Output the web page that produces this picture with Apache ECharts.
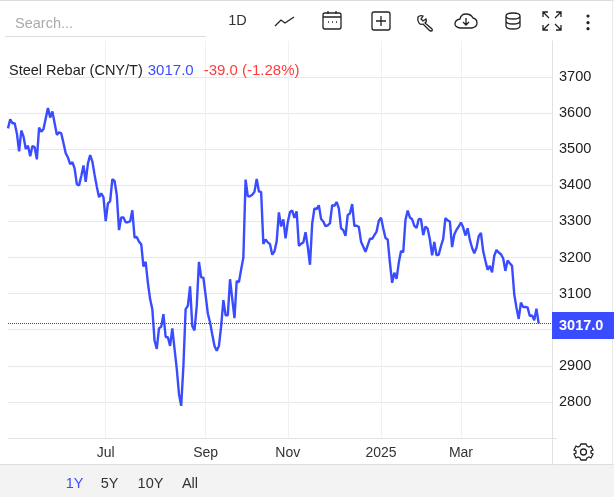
<!DOCTYPE html>
<html>
<head>
<meta charset="utf-8">
<title>Steel Rebar</title>
<script src="https://cdn.jsdelivr.net/npm/echarts@6/dist/echarts.min.js"></script>
<style>
  html, body { margin: 0; padding: 0; background: #fff; }
  #chart { width: 614px; height: 497px; }
</style>
</head>
<body>
<div id="chart"></div>
<script>
// daily close
const prices = [
  3558, 3583, 3572, 3572, 3544, 3494, 3552, 3535, 3501, 3510, 3481, 3509, 3506, 3472, 3560, 3549,
  3556, 3586, 3614, 3588, 3605, 3572, 3540, 3547, 3544, 3517, 3489, 3477, 3459, 3464, 3447, 3403,
  3400, 3426, 3455, 3410, 3461, 3484, 3466, 3429, 3396, 3367, 3378, 3367, 3301, 3350, 3356, 3417,
  3412, 3373, 3276, 3311, 3311, 3298, 3298, 3300, 3331, 3255, 3257, 3244, 3237, 3175, 3188, 3130,
  3085, 3057, 2970, 2947, 3004, 3008, 3043, 2980, 2979, 2955, 3004, 2947, 2892, 2822, 2789, 2900,
  3057, 3066, 3120, 3010, 2998, 3066, 3188, 3145, 3144, 3095, 3045, 3020, 2987, 2955, 2942, 2955,
  3010, 3082, 3040, 3040, 3140, 3085, 3032, 3135, 3132, 3167, 3200, 3416, 3370, 3370, 3374, 3382,
  3418, 3383, 3382, 3238, 3250, 3242, 3237, 3208, 3217, 3245, 3325, 3286, 3306, 3253, 3298, 3326,
  3330, 3310, 3328, 3232, 3238, 3242, 3270, 3230, 3180, 3294, 3336, 3334, 3345, 3307, 3300, 3287,
  3289, 3295, 3345, 3343, 3354, 3336, 3281, 3276, 3260, 3318, 3322, 3348, 3288, 3288, 3285, 3244,
  3230, 3216, 3234, 3252, 3252, 3262, 3272, 3302, 3310, 3281, 3254, 3250, 3186, 3130, 3158, 3141,
  3186, 3218, 3215, 3304, 3330, 3311, 3306, 3288, 3282, 3307, 3306, 3262, 3286, 3280, 3250, 3206,
  3243, 3206, 3208, 3232, 3252, 3309, 3303, 3300, 3229, 3264, 3277, 3286, 3297, 3283, 3261, 3281,
  3249, 3227, 3212, 3227, 3259, 3268, 3218, 3191, 3166, 3177, 3159, 3205, 3221, 3214, 3209, 3198,
  3163, 3192, 3184, 3177, 3098, 3061, 3030, 3075, 3063, 3063, 3062, 3038, 3040, 3026, 3058, 3017
];

const tickLabels = ['Jul', 'Sep', 'Nov', '2025', 'Mar'];
// unlabelled trading days before each tick, then the empty days after the last one
const daysBetweenTicks = [44, 44, 36, 41, 35, 41];
const ranges = ['1Y', '5Y', '10Y', 'All'];

const lastPrice = '3017.0';
const change = '-39.0 (-1.28%)';

const BLUE = '#3a4cff';
const FONT = '"Liberation Sans", Arial, sans-serif';

// category axis: empty names except on the month ticks
const categories = [];
daysBetweenTicks.forEach((days, i) => {
  for (let d = 0; d < days; d++) categories.push('');
  if (i < tickLabels.length) categories.push(tickLabels[i]);
});
const isTick = (idx, name) => name !== '';

function line(x1, y1, x2, y2, color) {
  return { type: 'line', silent: true, z: 1, shape: { x1, y1, x2, y2 }, style: { stroke: color, lineWidth: 1 } };
}
function text(x, y, str, size, color, align) {
  return {
    type: 'text', silent: true, z: 5, x, y,
    style: { text: str, fontSize: size, fontFamily: FONT, fill: color, align: align || 'left', verticalAlign: 'middle' }
  };
}
function dot(cx, cy, r) {
  return { type: 'circle', silent: true, z: 5, shape: { cx, cy, r }, style: { fill: '#222' } };
}

// toolbar and settings icons, page pixel coordinates
const icons = [
  'M275 26L281 20L285 23L294 17',
  'M325 13H339Q341 13 341 15V27Q341 29 339 29H325Q323 29 323 27V15Q323 13 325 13ZM323 17H341M328 11V14M336 11V14M328 22H329M332 22H333M336 22H337',
  'M374 12H388Q390 12 390 14V28Q390 30 388 30H374Q372 30 372 28V14Q372 12 374 12ZM381 16V26M376 21H386',
  'M418 17Q420 15 423 16L421 19L423 21L426 19Q427 22 425 23L432 29Q433 31 431 31Q430 31 429 30L423 24Q420 25 419 23Q417 20 418 17Z',
  'M460 28H472Q477 27 477 23Q477 19 473 18Q471 14 466 14Q461 14 460 19Q455 20 455 24Q455 27 460 28ZM466 18V25M463 22L466 25L469 22',
  'M506 16Q506 13 513 13Q520 13 520 16V26Q520 29 513 29Q506 29 506 26ZM506 16Q506 19 513 19Q520 19 520 16M506 21Q506 24 513 24Q520 24 520 21',
  'M543 17V12H548M543 12L549 18M561 17V12H556M561 12L555 18M543 25V30H548M543 30L549 24M561 25V30H556M561 30L555 24',
  'M581 444H586L587 446L589 447L591 446L593 450L591 451V453L593 454L591 458L589 457L587 458L586 460H581L580 458L578 457L576 458L574 454L576 453V451L574 450L576 446L578 447L580 446ZM583.5 449A3 3 0 1 0 583.5 455A3 3 0 1 0 583.5 449Z'
];
icons.forEach((d, i) => echarts.graphic.registerShape('icon' + i, echarts.graphic.extendPath(d, {})));

const chart = echarts.init(document.getElementById('chart'));
chart.setOption({
  animation: false,
  backgroundColor: '#fff',
  textStyle: { fontFamily: FONT },
  title: {
    left: 9, top: 62, padding: 0,
    text: '{name|Steel Rebar (CNY/T)} {last|' + lastPrice + '}  {chg|' + change + '}',
    textStyle: {
      rich: {
        name: { fontSize: 14.5, fontWeight: 'normal', fontFamily: FONT, color: '#222' },
        last: { fontSize: 15, fontWeight: 'normal', fontFamily: FONT, color: BLUE },
        chg: { fontSize: 15, fontWeight: 'normal', fontFamily: FONT, color: '#ff3b3b' }
      }
    }
  },
  grid: { left: 8, right: 62, top: 41, bottom: 59 },
  xAxis: {
    type: 'category',
    data: categories,
    boundaryGap: false,
    axisTick: { show: false },
    axisLine: { lineStyle: { color: '#e2e2e2' } },
    axisLabel: { interval: isTick, color: '#333', fontSize: 14, margin: 8, fontFamily: FONT },
    splitLine: { show: true, interval: isTick, lineStyle: { color: '#eef2f4' } }
  },
  yAxis: {
    type: 'value',
    position: 'right',
    min: 2700,
    max: 3800,
    interval: 100,
    axisTick: { show: false },
    axisLine: { show: true, lineStyle: { color: '#e2e2e2' } },
    axisLabel: {
      showMinLabel: false, showMaxLabel: false, formatter: (v) => String(v),
      color: '#222', fontSize: 14.5, margin: 7, fontFamily: FONT
    },
    splitLine: { show: true, showMaxLine: false, lineStyle: { color: '#e8e8e8' } }
  },
  series: [{
    type: 'line',
    data: prices,
    symbol: 'none',
    smooth: false,
    lineStyle: { color: BLUE, width: 2.4 },
    markLine: {
      silent: true,
      symbol: 'none',
      lineStyle: { color: '#2f3fe0', type: 'dotted', width: 1 },
      label: {
        position: 'end', distance: 0, offset: [0, 2], formatter: lastPrice, color: '#fff', backgroundColor: BLUE,
        fontSize: 14.5, fontWeight: 'bold', fontFamily: FONT, padding: [6, 11, 6, 7]
      },
      data: [{ yAxis: 3017 }]
    }
  }],
  graphic: [
    { type: 'rect', silent: true, z: 0, shape: { x: 0, y: 465, width: 614, height: 32 }, style: { fill: '#f3f3f3' } },
    line(0, 0.5, 614, 0.5, '#dcdcdc'),
    line(5, 36.5, 206, 36.5, '#dddddd'),
    line(0, 464.5, 614, 464.5, '#dddddd'),
    line(552.5, 438, 552.5, 465, '#e2e2e2'),
    line(552, 438.5, 557, 438.5, '#e2e2e2'),
    line(612.5, 0, 612.5, 465, '#e8e8e8'),
    text(15, 24, 'Search...', 14.5, '#aaaaaa'),
    text(237.5, 21, '1D', 14.5, '#333', 'center'),
    ...icons.map((d, i) => ({
      type: 'icon' + i, silent: true, z: 5,
      style: { fill: 'none', stroke: '#222', lineWidth: 1.3 }
    })),
    dot(588, 16, 1.6), dot(588, 22.7, 1.6), dot(588, 28.7, 1.6),
    ...ranges.map((r, i) => text([74.5, 109.5, 150.5, 190][i], 484, r, 14.5, i === 0 ? BLUE : '#333', 'center'))
  ]
});
window.addEventListener('resize', () => chart.resize());
</script>
</body>
</html>
